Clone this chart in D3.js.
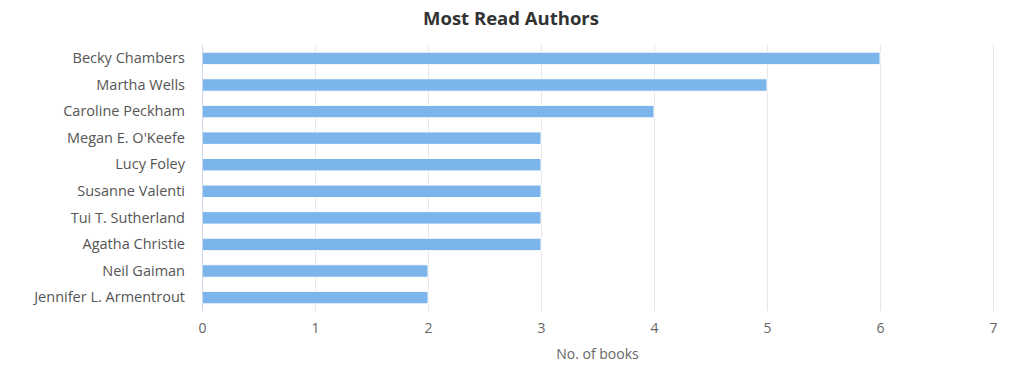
<!DOCTYPE html>
<html>
<head>
<meta charset="utf-8">
<script src="https://cdn.jsdelivr.net/npm/d3@7"></script>
<style>
  body { margin: 0; background: #fff; }
  svg { display: block; font-family: "Open Sans", sans-serif; }
</style>
</head>
<body>
<div id="chart"></div>
<script>
const authors = ["Becky Chambers", "Martha Wells", "Caroline Peckham", "Megan E. O'Keefe",
  "Lucy Foley", "Susanne Valenti", "Tui T. Sutherland", "Agatha Christie",
  "Neil Gaiman", "Jennifer L. Armentrout"];
const books = [6, 5, 4, 3, 3, 3, 3, 3, 2, 2];
const xTicks = [0, 1, 2, 3, 4, 5, 6, 7];

const width = 1022;
const height = 381;
const marginTop = 45;
const marginRight = 29;
const marginBottom = 70;
const marginLeft = 202;

const x = d3.scaleLinear()
  .domain([0, 7])
  .range([marginLeft, width - marginRight]);

const y = d3.scaleBand()
  .domain(authors)
  .range([marginTop, height - marginBottom])
  .paddingInner(0.53)
  .paddingOuter(0.27);

const svg = d3.create("svg")
  .attr("width", width)
  .attr("height", height)
  .attr("viewBox", [0, 0, width, height]);

// title
svg.append("text")
  .attr("x", width / 2)
  .attr("y", 25)
  .attr("text-anchor", "middle")
  .attr("fill", "#333333")
  .style("font-size", "18.5px")
  .style("font-weight", "bold")
  .text("Most Read Authors");

// grid lines
svg.append("g")
  .selectAll("line")
  .data(xTicks.slice(1))
  .join("line")
  .attr("x1", d => x(d) + 0.5)
  .attr("x2", d => x(d) + 0.5)
  .attr("y1", marginTop)
  .attr("y2", height - marginBottom)
  .attr("stroke", "#e6e6e6");

// bars
svg.append("g")
  .selectAll("rect")
  .data(books)
  .join("rect")
  .attr("x", x(0))
  .attr("y", (d, i) => y(authors[i]))
  .attr("width", d => x(d) - x(0))
  .attr("height", y.bandwidth())
  .attr("fill", "#7cb5ec")
  .attr("stroke", "#ffffff")
  .attr("stroke-width", 1);

// category axis
const yAxis = svg.append("g")
  .attr("transform", `translate(${marginLeft},0)`)
  .call(d3.axisLeft(y).tickSize(0).tickPadding(17));
yAxis.select(".domain").attr("stroke", "#ccd6eb").attr("d", `M0.5,${marginTop}V${height - marginBottom}`);
yAxis.selectAll("text")
  .attr("fill", "#555555")
  .style("font-size", "14.5px")
  .style("font-family", "Open Sans, sans-serif");

// value axis
const xAxis = svg.append("g")
  .attr("transform", `translate(0,${height - marginBottom})`)
  .call(d3.axisBottom(x).tickValues(xTicks).tickSize(0).tickPadding(12).tickFormat(d3.format("d")));
xAxis.select(".domain").remove();
xAxis.selectAll("text")
  .attr("fill", "#666666")
  .style("font-size", "14px")
  .style("font-family", "Open Sans, sans-serif");

svg.append("text")
  .attr("x", (marginLeft + width - marginRight) / 2)
  .attr("y", 359)
  .attr("text-anchor", "middle")
  .attr("fill", "#666666")
  .style("font-size", "14px")
  .text("No. of books");

document.getElementById("chart").append(svg.node());
</script>
</body>
</html>
